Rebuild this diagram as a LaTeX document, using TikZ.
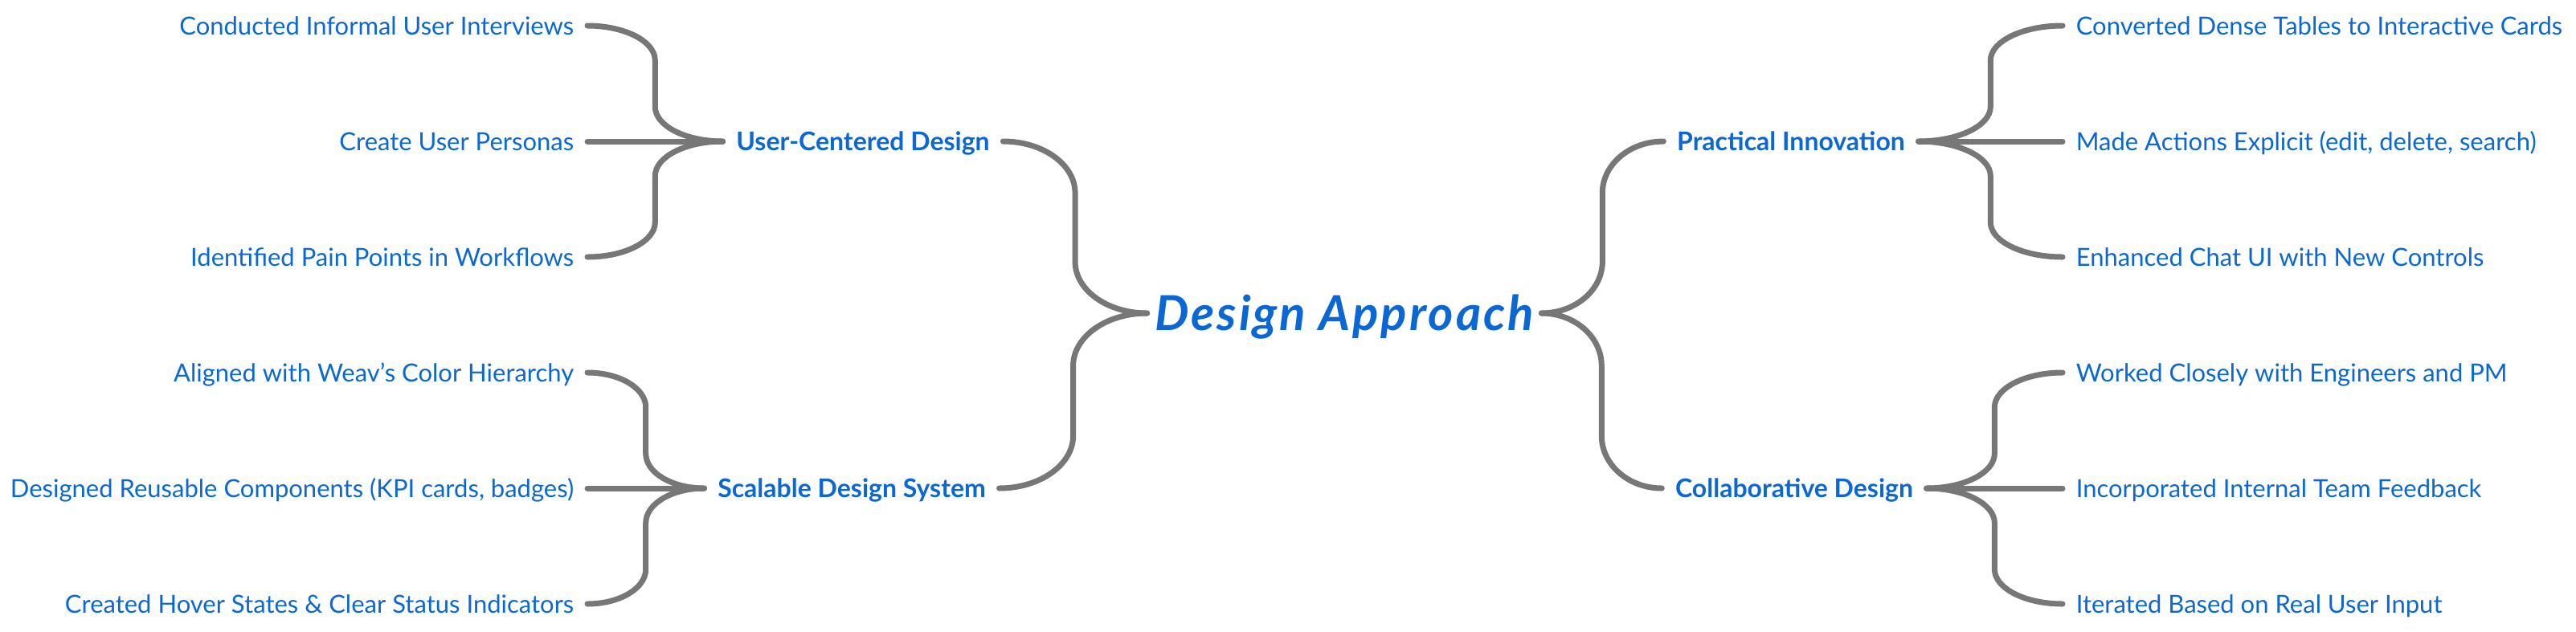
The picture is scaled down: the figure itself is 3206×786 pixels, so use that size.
\documentclass[tikz,border=0pt]{standalone}
\usepackage{fontspec}
\setmainfont{Lato}
\usetikzlibrary{calc}
\definecolor{tblue}{HTML}{0A67D4}
\definecolor{lgray}{HTML}{777777}
\begin{document}
\begin{tikzpicture}[x=0.25pt,y=-0.25pt,
  leaf/.style={font=\fontsize{7.75}{10}\selectfont, text=tblue, inner xsep=4pt, inner ysep=0pt, text height=7.2pt, text depth=1.6pt},
  branch/.style={leaf, font=\fontsize{8}{10}\selectfont\bfseries},
  titlenode/.style={font=\fontsize{15}{18}\selectfont\bfseries\itshape\addfontfeature{LetterSpace=5}, text=tblue, inner sep=0pt, minimum width=122.25pt, text height=13.6pt, text depth=3pt},
  conn/.style={draw=lgray, line width=1.75pt, line cap=round},
  brace/.style={to path={
    let \p1=(\tikztostart), \p2=(\tikztotarget), \n1={(\x1+\x2)/2}, \n2={0.3*(\y2-\y1)} in
    .. controls ({\x1+0.552*(\n1-\x1)},\y1) and (\n1,{\y1+0.448*\n2}) .. (\n1,{\y1+\n2})
    -- (\n1,{\y2-\n2})
    .. controls (\n1,{\y2-0.448*\n2}) and ({\x2-0.552*(\x2-\n1)},\y2) .. (\x2,\y2)
    \tikztonodes}}]
\useasboundingbox (0,0) rectangle (3206,786);

% central topic
\node[titlenode] (ttl) at (1673,390) {Design Approach};

% main branches
\node[branch] (ucd) at (1074,176) {User-Centered Design};
\node[branch] (sds) at (1060,608) {Scalable Design System};
\node[branch] (pin) at (2229,176) {Practical Innovation};
\node[branch] (cod) at (2233,608) {Collaborative Design};

% left leaves
\node[leaf, anchor=east] (l1) at (731,32) {Conducted Informal User Interviews};
\node[leaf, anchor=east] (l2) at (731,176) {Create User Personas};
\node[leaf, anchor=east] (l3) at (731,320) {Identified Pain Points in Workflows};
\node[leaf, anchor=east] (l4) at (731,464) {Aligned with Weav’s Color Hierarchy};
\node[leaf, anchor=east] (l5) at (731,608) {Designed Reusable Components (KPI cards, badges)};
\node[leaf, anchor=east] (l6) at (731,752) {Created Hover States \& Clear Status Indicators};

% right leaves
\node[leaf, anchor=west] (r1) at (2567,32) {Converted Dense Tables to Interactive Cards};
\node[leaf, anchor=west] (r2) at (2567,176) {Made Actions Explicit (edit, delete, search)};
\node[leaf, anchor=west] (r3) at (2567,320) {Enhanced Chat UI with New Controls};
\node[leaf, anchor=west] (r4) at (2567,464) {Worked Closely with Engineers and PM};
\node[leaf, anchor=west] (r5) at (2567,608) {Incorporated Internal Team Feedback};
\node[leaf, anchor=west] (r6) at (2567,752) {Iterated Based on Real User Input};

% connectors
\draw[conn] (ucd.east) to[brace] (ttl.west);
\draw[conn] (sds.east) to[brace] (ttl.west);
\draw[conn] (ttl.east) to[brace] (pin.west);
\draw[conn] (ttl.east) to[brace] (cod.west);

\draw[conn] (l1.east) to[brace] (ucd.west);
\draw[conn] (l2.east) to[brace] (ucd.west);
\draw[conn] (l3.east) to[brace] (ucd.west);
\draw[conn] (l4.east) to[brace] (sds.west);
\draw[conn] (l5.east) to[brace] (sds.west);
\draw[conn] (l6.east) to[brace] (sds.west);

\draw[conn] (pin.east) to[brace] (r1.west);
\draw[conn] (pin.east) to[brace] (r2.west);
\draw[conn] (pin.east) to[brace] (r3.west);
\draw[conn] (cod.east) to[brace] (r4.west);
\draw[conn] (cod.east) to[brace] (r5.west);
\draw[conn] (cod.east) to[brace] (r6.west);
\end{tikzpicture}
\end{document}
